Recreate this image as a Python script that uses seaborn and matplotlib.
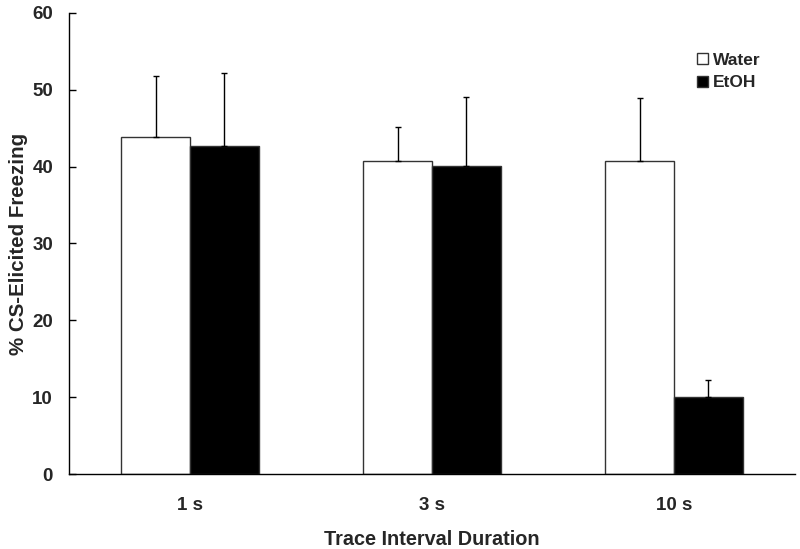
import numpy as np
import pandas as pd
import matplotlib
matplotlib.use("Agg")
import matplotlib.pyplot as plt
import seaborn as sns

# values
intervals = ["1 s", "3 s", "10 s"]
groups = ["Water", "EtOH"]
water_mean = [43.8, 40.7, 40.7]
water_sem = [8.0, 4.5, 8.2]
etoh_mean = [42.7, 40.1, 10.1]
etoh_sem = [9.5, 9.0, 2.1]

df = pd.DataFrame({
    "Interval": intervals * 2,
    "Group": ["Water"] * 3 + ["EtOH"] * 3,
    "Freezing": water_mean + etoh_mean,
    "SEM": water_sem + etoh_sem,
})

sns.set_style("ticks")
plt.rcParams["font.family"] = ["Liberation Sans", "DejaVu Sans"]
plt.rcParams["font.weight"] = "bold"

fig, ax = plt.subplots(figsize=(8, 5.49), dpi=100)
fig.subplots_adjust(left=0.08625, right=0.99375, top=0.977, bottom=0.136)

sns.barplot(data=df, x="Interval", y="Freezing", hue="Group",
            hue_order=groups, order=intervals,
            palette={"Water": "white", "EtOH": "black"},
            edgecolor="#333333", linewidth=1.0, width=0.57, gap=0,
            errorbar=None, ax=ax)

# upward-only error bars, positioned from the drawn bars
for container, g in zip(ax.containers, groups):
    sub = df[df["Group"] == g].set_index("Interval").loc[intervals]
    xs = [p.get_x() + p.get_width() / 2 for p in container.patches]
    ys = sub["Freezing"].values
    err = sub["SEM"].values
    ax.errorbar(xs, ys, yerr=[np.zeros_like(err), err], fmt="none",
                ecolor="black", elinewidth=1.0, capsize=2.5, capthick=1.0,
                zorder=1)

ax.set_ylim(0, 60)
ax.set_yticks(range(0, 61, 10))
ax.set_xlim(-0.5, 2.5)
ax.set_xlabel("Trace Interval Duration", fontsize=14.3, fontweight="bold", labelpad=12)
ax.set_ylabel("% CS-Elicited Freezing", fontsize=14.8, fontweight="bold", labelpad=3)
ax.tick_params(axis="y", labelsize=13.5, length=5, width=1, color="black",
               direction="in", pad=11.5)
ax.tick_params(axis="x", labelsize=13.5, length=0, pad=16)
for lab in ax.get_xticklabels() + ax.get_yticklabels():
    lab.set_fontweight("bold")

sns.despine(ax=ax)
for s in ["left", "bottom"]:
    ax.spines[s].set_color("black")
    ax.spines[s].set_linewidth(1.0)

ax.legend(loc="upper left", bbox_to_anchor=(0.865, 0.913), frameon=False,
          borderpad=0, borderaxespad=0,
          handlelength=0.63, handleheight=0.63, handletextpad=0.3,
          labelspacing=0.44, prop={"size": 12.5, "weight": "bold"})

plt.savefig("out.png", dpi=100)
plt.close()
